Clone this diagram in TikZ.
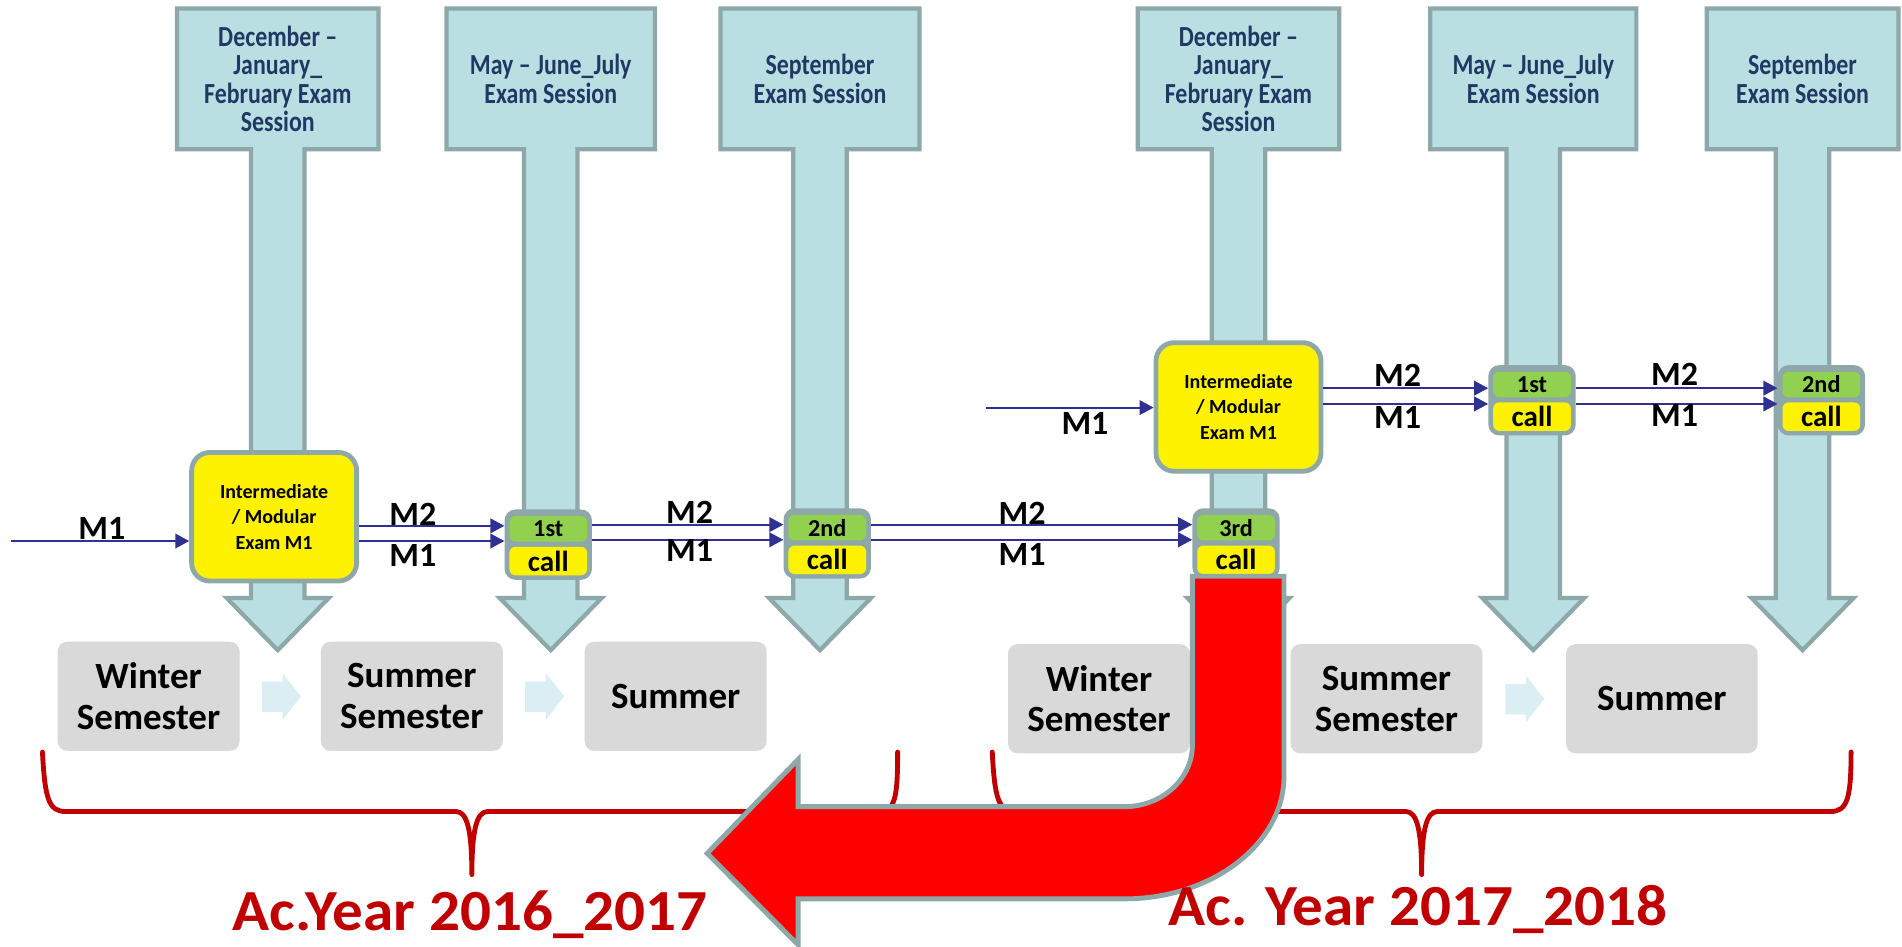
\documentclass[tikz,border=0pt]{standalone}
\usepackage{fontspec}
\setmainfont{Carlito}
\newfontfamily\sesfont{Carlito}[FakeStretch=0.82]
\newfontfamily\yearfont{Carlito}[FakeStretch=1.05]
\usetikzlibrary{arrows.meta,calc}
\definecolor{colfill}{HTML}{BADFE2}
\definecolor{colline}{HTML}{8EA8AA}
\definecolor{sestext}{HTML}{1F3864}
\definecolor{callgreen}{HTML}{92D050}
\definecolor{arrowblue}{HTML}{2E3192}
\definecolor{greybox}{HTML}{D9D9D9}
\definecolor{chev}{HTML}{DAEEF3}
\definecolor{darkred}{HTML}{C00000}
\begin{document}
\begin{tikzpicture}[x=1pt,y=-1pt,
  column/.style={fill=colfill,draw=colline,line width=3.5pt,line join=miter},
  sestxt/.style={text=sestext,font=\sesfont\fontsize{24}{23.5}\selectfont\bfseries,align=center,inner sep=0pt},
  ybox/.style={fill=yellow,draw=colline,line width=4pt,rounded corners=15pt,minimum width=136pt,minimum height=106pt,align=center,font=\fontsize{16.5}{21}\selectfont\bfseries,inner sep=0pt},
  callbox/.style={fill=colline,rounded corners=9pt,minimum width=72pt,minimum height=58pt,inner sep=0pt},
  callpart/.style={rounded corners=5pt,minimum width=64pt,inner sep=0pt},
  flow/.style={draw=arrowblue,line width=1.6pt,-{Triangle[length=11.5pt,width=12pt]}},
  mlab/.style={font=\fontsize{28}{28}\selectfont\bfseries,anchor=base,inner sep=0pt,text=black},
  greyb/.style={fill=greybox,rounded corners=8pt,minimum height=90pt,align=center,font=\fontsize{30.5}{33.5}\selectfont\bfseries,inner sep=0pt},
  chevron/.style={fill=chev},
  brace/.style={draw=darkred,line width=4pt,line cap=round,line join=round},
  yearlab/.style={text=darkred,font=\yearfont\fontsize{48}{48}\selectfont\bfseries,anchor=base,inner sep=0pt},
  uturn/.style={fill=red,draw=colline,line width=4pt,line join=miter}
]
\useasboundingbox (0,0) rectangle (1568,780);
\fill[white] (0,0) rectangle (1568,780);

% exam session columns
\foreach \cx/\bw in {229/83,454/86,676/82,1021/83,1264/85,1486/79} {
  \draw[column] (\cx-\bw,7) -- (\cx+\bw,7) -- (\cx+\bw,123) -- (\cx+22,123) -- (\cx+22,493)
    -- (\cx+42,493) -- (\cx,536) -- (\cx-42,493) -- (\cx-22,493) -- (\cx-22,123) -- (\cx-\bw,123) -- cycle;
}
\node[sestxt] (S1) at (229,65) {December –\\January\_\\February Exam\\Session};
\node[sestxt] (S2) at (454,65) {May – June\_July\\Exam Session};
\node[sestxt] (S3) at (676,65) {September\\Exam Session};
\node[sestxt] (S4) at (1021,65) {December –\\January\_\\February Exam\\Session};
\node[sestxt] (S5) at (1264,65) {May – June\_July\\Exam Session};
\node[sestxt] (S6) at (1486,65) {September\\Exam Session};

% semester boxes
\node[greyb,minimum width=150pt] (G1) at (122.5,574) {Winter\\Semester};
\node[greyb,minimum width=150pt] (G2) at (339.5,574) {Summer\\Semester};
\node[greyb,minimum width=150pt] (G3) at (557,574) {Summer};
\node[greyb,minimum width=150pt] (G4) at (906,576) {Winter\\Semester};
\node[greyb,minimum width=158pt] (G5) at (1143,576) {Summer\\Semester};
\node[greyb,minimum width=158pt] (G6) at (1370,576) {Summer};
\foreach \dx/\dy in {0/0,217/0,1025/2} {
  \fill[chevron,shift={(\dx,\dy)}] (216,562) -- (233,562) -- (233,555) -- (248,574) -- (233,593.5) -- (233,587) -- (216,587) -- cycle;
}

% braces
\draw[brace] (35,620) .. controls (37,658) and (40,669) .. (54,669) -- (376,669)
  .. controls (385,669) and (389,684) .. (389,721) .. controls (389,684) and (393,669) .. (402,669)
  -- (724,669) .. controls (738,669) and (740,658) .. (740,620);
\draw[brace] (818,620) .. controls (820,658) and (823,669) .. (837,669) -- (1159,669)
  .. controls (1168,669) and (1172,684) .. (1172,721) .. controls (1172,684) and (1176,669) .. (1185,669)
  -- (1509,669) .. controls (1523,669) and (1526,658) .. (1526,620);

% intermediate exams
\node[ybox] (Y1) at (226,426) {Intermediate\\/ Modular\\Exam M1};
\node[ybox] (Y2) at (1021,335.5) {Intermediate\\/ Modular\\Exam M1};

% calls
\foreach \n/\x/\y/\t in {C1/452/449/1st,C2/682/448/2nd,C3/1019/448/3rd,C4/1263/330/1st,C5/1501.5/330/2nd} {
  \node[callbox] (\n) at (\x,\y) {};
  \node[callpart,fill=callgreen,minimum height=21pt,font=\fontsize{20}{20}\selectfont\bfseries] (\n a) at ($(\n.center)+(0,-13)$) {\t};
  \node[callpart,fill=yellow,minimum height=23.5pt,font=\fontsize{24}{24}\selectfont\bfseries] (\n b) at ($(\n.center)+(0,13.5)$) {call};
}

% connectors, lower row
\coordinate (in1) at (9,446);
\draw[flow] (in1) -- (in1 -| Y1.west) node[mlab,pos=0.51,yshift=1pt] (L0) {M1};
\foreach \n in {C1,C2,C3} {
  \coordinate (\n m2) at ($(\n.west)+(0,-15.5)$);
  \coordinate (\n m1) at ($(\n.west)+(0,-3)$);
}
\draw[flow] (Y1.east |- C1m2) -- (C1m2) node[mlab,pos=0.37,yshift=0.5pt] (L1) {M2};
\draw[flow] (Y1.east |- C1m1) -- (C1m1) node[mlab,pos=0.37,yshift=-21pt] (L2) {M1};
\draw[flow] (C1.east |- C2m2) -- (C2m2) node[mlab,pos=0.51,yshift=1pt] (L3) {M2};
\draw[flow] (C1.east |- C2m1) -- (C2m1) node[mlab,pos=0.51,yshift=-18pt] (L4) {M1};
\draw[flow] (C2.east |- C3m2) -- (C3m2) node[mlab,pos=0.47,yshift=0.5pt] (L5) {M2};
\draw[flow] (C2.east |- C3m1) -- (C3m1) node[mlab,pos=0.47,yshift=-21pt] (L6) {M1};

% connectors, upper row
\coordinate (in2) at (813,336);
\draw[flow] (in2) -- (in2 -| Y2.west) node[mlab,pos=0.59,yshift=-22pt] (L7) {M1};
\foreach \n in {C4,C5} {
  \coordinate (\n m2) at ($(\n.west)+(0,-10)$);
  \coordinate (\n m1) at ($(\n.west)+(0,3)$);
}
\draw[flow] (Y2.east |- C4m2) -- (C4m2) node[mlab,pos=0.45,yshift=1pt] (L8) {M2};
\draw[flow] (Y2.east |- C4m1) -- (C4m1) node[mlab,pos=0.45,yshift=-20pt] (L9) {M1};
\draw[flow] (C4.east |- C5m2) -- (C5m2) node[mlab,pos=0.49,yshift=2pt] (L10) {M2};
\draw[flow] (C4.east |- C5m1) -- (C5m1) node[mlab,pos=0.49,yshift=-19pt] (L11) {M1};

% red U-turn arrow
\draw[uturn] (983,475) -- (983,614) .. controls (983,643) and (957,665) .. (927,665)
  -- (658,665) -- (658,626) -- (583,703.5) -- (658,779) -- (658,741) -- (927,741)
  .. controls (1000,741) and (1058.5,695) .. (1058.5,640) -- (1058.5,475) -- cycle;

% academic years
\node[yearlab] (A1) at (387.5,767) {Ac.Year 2016\_2017};
\node[yearlab] (A2) at (1169,763) {Ac. Year 2017\_2018};
\end{tikzpicture}
\end{document}
